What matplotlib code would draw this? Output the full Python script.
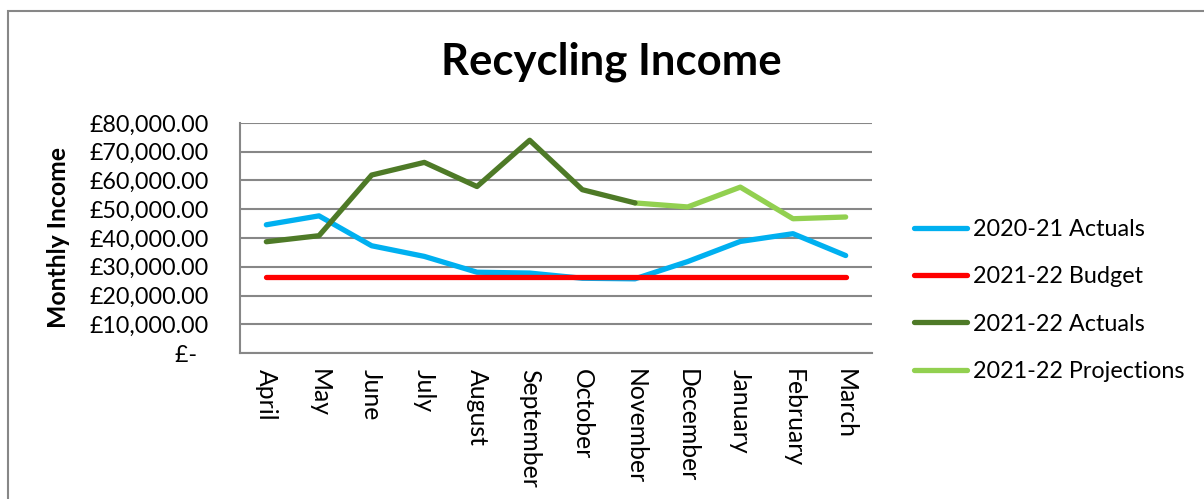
import matplotlib
matplotlib.use("Agg")
import matplotlib.pyplot as plt
from matplotlib.patches import Rectangle
from matplotlib.ticker import FuncFormatter, MultipleLocator

plt.rcParams['font.family'] = ['Lato', 'DejaVu Sans']

months = ["April", "May", "June", "July", "August", "September",
          "October", "November", "December", "January", "February", "March"]

actuals_2020_21 = [44600, 47700, 37300, 33600, 28100, 27800,
                   26000, 25800, 31800, 38800, 41500, 33900]
budget_2021_22 = [26400] * 12
actuals_2021_22 = [38700, 40800, 61900, 66300, 57900, 74000, 56800, 52200]
projections_2021_22 = [52200, 50800, 57700, 46700, 47300]

W, H = 1204, 499
PX = 72 / 100  # points per pixel at 100 dpi
fig = plt.figure(figsize=(W / 100, H / 100), dpi=100)
renderer = fig.canvas.get_renderer()


def fit_size(text, target_px, **kw):
    """Font size (pt) at which `text` spans target_px pixels."""
    t = fig.text(0, 0, text, fontsize=20, **kw)
    w = t.get_window_extent(renderer).width
    t.remove()
    return 20 * target_px / w


tick_size = fit_size("£80,000.00", 119)
month_size = fit_size("September", 119)
legend_size = fit_size("2020-21 Actuals", 172)
ylabel_size = fit_size("Monthly Income", 181, fontweight="bold")
title_size = fit_size("Recycling Income", 340, fontweight="bold")

# chart frame
fig.patches.append(Rectangle((7.5 / W, -0.1), 1.2, 1 - 11.5 / H + 0.1,
                             transform=fig.transFigure, fill=False,
                             edgecolor="#878787", linewidth=1.5))

ax = fig.add_axes([240 / W, 1 - 353 / H, (872 - 240) / W, (353 - 123) / H])

x = list(range(len(months)))
lw = 3.8
ax.plot(x, actuals_2020_21, color="#00B0F0", lw=lw, solid_capstyle="round",
        solid_joinstyle="round", label="2020-21 Actuals", zorder=3)
ax.plot(x, budget_2021_22, color="#FF0000", lw=lw, solid_capstyle="round",
        label="2021-22 Budget", zorder=4)
ax.plot(x[:len(actuals_2021_22)], actuals_2021_22, color="#4E7A27", lw=lw,
        solid_capstyle="round", solid_joinstyle="round",
        label="2021-22 Actuals", zorder=5)
ax.plot(x[7:7 + len(projections_2021_22)], projections_2021_22, color="#92D050",
        lw=lw, solid_capstyle="round", solid_joinstyle="round",
        label="2021-22 Projections", zorder=4)

ax.set_xlim(-0.5, 11.5)
ax.set_ylim(0, 80000)
ax.yaxis.set_major_locator(MultipleLocator(10000))


def money(v, pos):
    if v == 0:
        return "£-  "
    return "£{:,.2f}".format(v)


ax.yaxis.set_major_formatter(FuncFormatter(money))
ax.set_xticks(x)
ax.set_xticklabels(months, rotation=-90, va="top", ha="center")
ax.tick_params(axis="both", length=0, colors="black")
ax.tick_params(axis="y", labelsize=tick_size, pad=31 * PX)
ax.tick_params(axis="x", labelsize=month_size, pad=16 * PX)

ax.grid(axis="y", color="#878787", lw=1.5)
ax.set_axisbelow(True)
for s in ["top", "right"]:
    ax.spines[s].set_visible(False)
for s in ["left", "bottom"]:
    ax.spines[s].set_color("#878787")
    ax.spines[s].set_linewidth(1.5)

fig.text(59 / W, 1 - 238 / H, "Monthly Income", fontsize=ylabel_size,
         fontweight="bold", rotation=90, ha="center", va="center")

fig.text(611 / W, 1 - 62 / H, "Recycling Income", fontsize=title_size,
         fontweight="bold", ha="center", va="center")

em = legend_size / PX
fig.legend(loc="center left", bbox_to_anchor=(914 / W, 1 - 300.5 / H),
           frameon=False, fontsize=legend_size, handlelength=53 / em,
           handletextpad=6 / em, labelspacing=1.12, borderaxespad=0,
           borderpad=0)

fig.savefig("out.png", dpi=100, facecolor="white")
